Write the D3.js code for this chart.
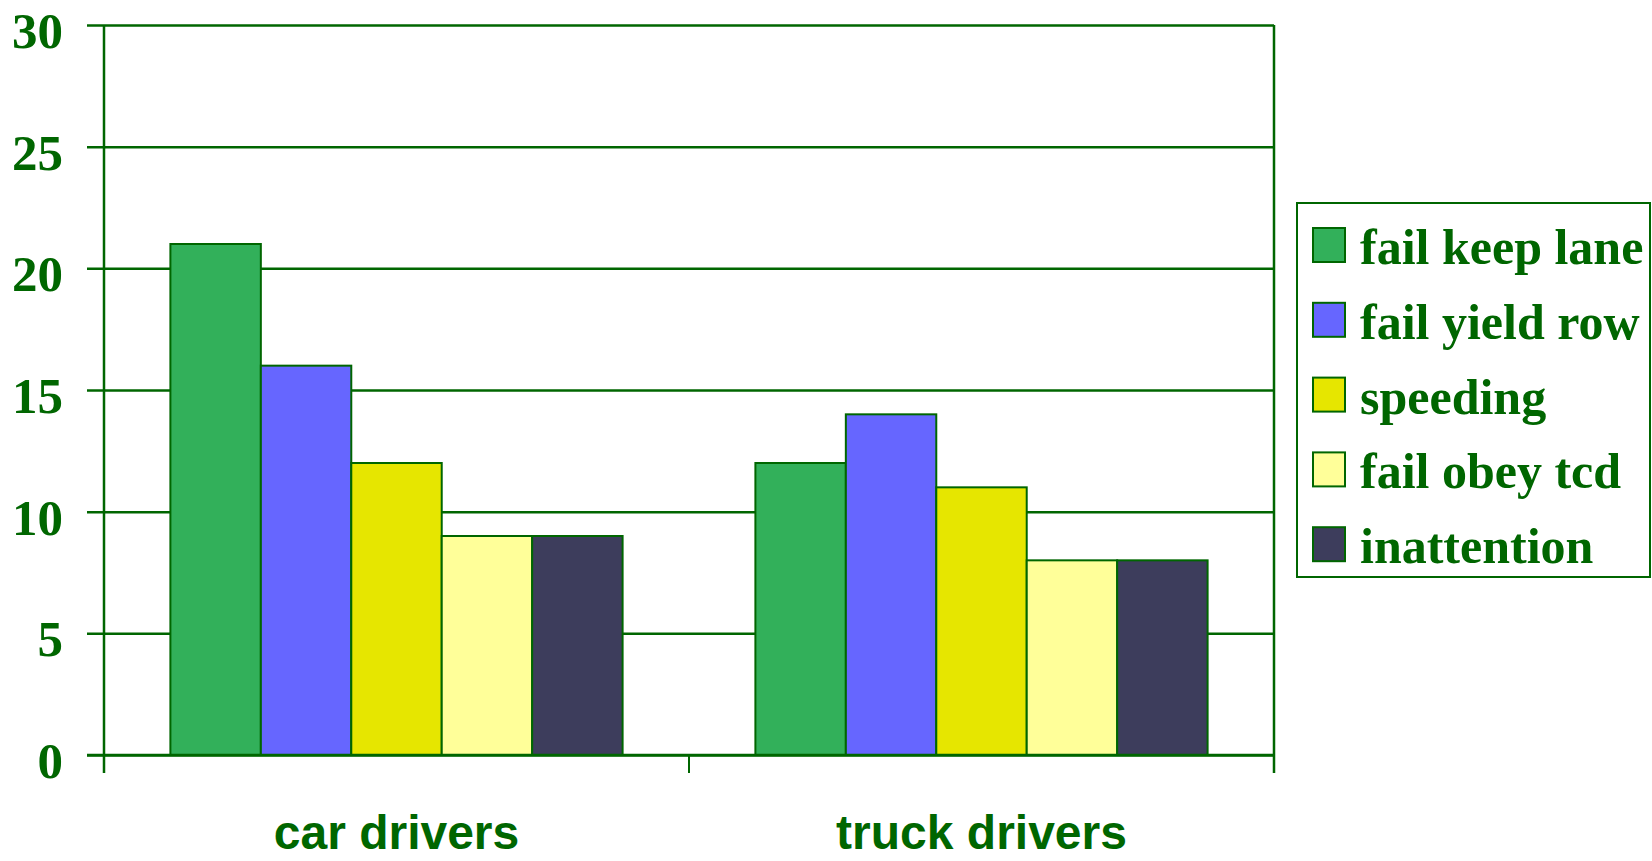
<!DOCTYPE html>
<html>
<head>
<meta charset="utf-8">
<script src="https://cdn.jsdelivr.net/npm/d3@7"></script>
<style>
  body { margin: 0; background: #fff; }
  svg { display: block; }
</style>
</head>
<body>
<div id="chart"></div>
<script>
// data
var categories = ["car drivers", "truck drivers"];
var seriesNames = ["fail keep lane", "fail yield row", "speeding", "fail obey tcd", "inattention"];
var seriesColors = ["#32b05a", "#6666ff", "#e6e600", "#ffff99", "#3d3d5c"];
var failKeepLane = [21, 12];
var failYieldRow = [16, 14];
var speeding = [12, 11];
var failObeyTcd = [9, 8];
var inattention = [9, 8];
var yTicks = [0, 5, 10, 15, 20, 25, 30];

var seriesValues = [failKeepLane, failYieldRow, speeding, failObeyTcd, inattention];

var width = 1652;
var height = 861;
var ink = "#006600";

var plot = {left: 104, right: 1274, top: 25, bottom: 755};

var svgContainer = d3.select("#chart").append("svg")
    .attr("width", width)
    .attr("height", height);

var x0 = d3.scaleBand()
    .domain(categories)
    .range([plot.left, plot.right])
    .padding(0);

var x1 = d3.scaleBand()
    .domain(seriesNames)
    .range([0, x0.bandwidth() * 0.773]);

var y = d3.scaleLinear()
    .domain([0, 30])
    .range([plot.bottom, plot.top]);

// gridlines + y ticks
var yAxis = d3.axisLeft(y)
    .tickValues(yTicks)
    .tickSize(-(plot.right - plot.left))
    .tickFormat("");

var gy = svgContainer.append("g")
    .attr("transform", "translate(" + plot.left + ",0)")
    .call(yAxis);
gy.select(".domain").remove();
gy.selectAll(".tick line")
    .attr("x1", -17)
    .attr("stroke", ink)
    .attr("stroke-width", 2.5);

// y labels
svgContainer.selectAll(".ylab")
    .data(yTicks)
    .enter()
    .append("text")
    .attr("class", "ylab")
    .attr("x", 63)
    .attr("y", function(d){ return y(d) + 23; })
    .attr("text-anchor", "end")
    .attr("font-family", "'Liberation Serif', 'Times New Roman', serif")
    .attr("font-weight", "bold")
    .attr("font-size", "51px")
    .attr("fill", ink)
    .text(function(d){ return d; });

// bars
var groups = svgContainer.selectAll(".grp")
    .data(categories)
    .enter()
    .append("g")
    .attr("class", "grp")
    .attr("transform", function(d){
        return "translate(" + (x0(d) + (x0.bandwidth() - x1.range()[1]) / 2) + ",0)";
    });

groups.selectAll("rect")
    .data(function(d, i){
        return seriesNames.map(function(s, j){ return {name: s, value: seriesValues[j][i], color: seriesColors[j]}; });
    })
    .enter()
    .append("rect")
    .attr("x", function(d){ return x1(d.name); })
    .attr("y", function(d){ return y(d.value); })
    .attr("width", x1.bandwidth())
    .attr("height", function(d){ return y(0) - y(d.value); })
    .style("fill", function(d){ return d.color; })
    .style("stroke", ink)
    .style("stroke-width", 2);

// left axis, right border, bottom axis
svgContainer.append("line")
    .attr("x1", plot.left).attr("x2", plot.left)
    .attr("y1", plot.top).attr("y2", plot.bottom + 18)
    .attr("stroke", ink).attr("stroke-width", 2.5);

svgContainer.append("line")
    .attr("x1", plot.right).attr("x2", plot.right)
    .attr("y1", plot.top).attr("y2", plot.bottom + 18)
    .attr("stroke", ink).attr("stroke-width", 2.5);

svgContainer.append("line")
    .attr("x1", plot.left - 17).attr("x2", plot.right)
    .attr("y1", plot.bottom).attr("y2", plot.bottom)
    .attr("stroke", ink).attr("stroke-width", 2.5);

// middle category tick
svgContainer.append("line")
    .attr("x1", x0(categories[1])).attr("x2", x0(categories[1]))
    .attr("y1", plot.bottom).attr("y2", plot.bottom + 18)
    .attr("stroke", ink).attr("stroke-width", 2);

// x labels
svgContainer.selectAll(".xlab")
    .data(categories)
    .enter()
    .append("text")
    .attr("class", "xlab")
    .attr("x", function(d){ return x0(d) + x0.bandwidth() / 2; })
    .attr("y", 849)
    .attr("text-anchor", "middle")
    .attr("font-family", "'Liberation Sans', Arial, sans-serif")
    .attr("font-weight", "bold")
    .attr("font-size", "48px")
    .attr("fill", ink)
    .text(function(d){ return d; });

// legend
svgContainer.append("rect")
    .attr("x", 1297)
    .attr("y", 203)
    .attr("width", 353)
    .attr("height", 374)
    .style("fill", "white")
    .style("stroke", ink)
    .style("stroke-width", 2);

var legenda = svgContainer.selectAll(".leg")
    .data(seriesNames)
    .enter()
    .append("g")
    .attr("class", "leg")
    .attr("transform", function(d, i){ return "translate(1313," + (228 + i * 74.8) + ")"; });

legenda.append("rect")
    .attr("width", 32)
    .attr("height", 34)
    .style("fill", function(d, i){ return seriesColors[i]; })
    .style("stroke", ink)
    .style("stroke-width", 2);

legenda.append("text")
    .attr("x", 47)
    .attr("y", 36)
    .attr("font-family", "'Liberation Serif', 'Times New Roman', serif")
    .attr("font-weight", "bold")
    .attr("font-size", "50px")
    .attr("fill", ink)
    .text(function(d){ return d; });
</script>
</body>
</html>
